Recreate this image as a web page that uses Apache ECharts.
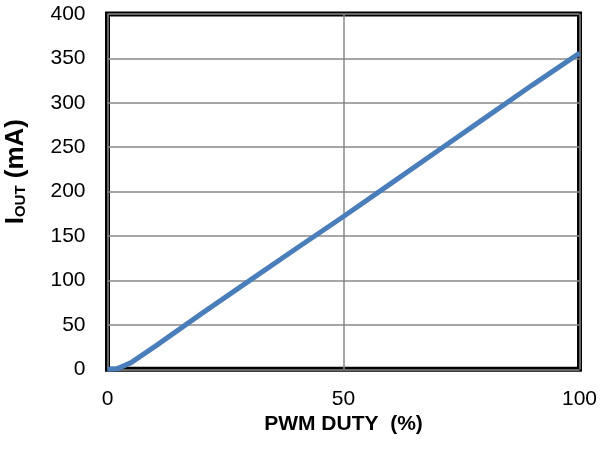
<!DOCTYPE html>
<html>
<head>
<meta charset="utf-8">
<script src="https://cdn.jsdelivr.net/npm/echarts@6/dist/echarts.min.js"></script>
<style>html,body{margin:0;padding:0;background:#fff;}#c{width:601px;height:453px;}</style>
</head>
<body>
<div id="c"></div>
<script>
var dutyPct = [0, 2, 5, 10, 20, 30, 40, 50, 60, 70, 80, 90, 100];
var ioutMA = [0, 0.5, 7.5, 25.5, 63, 99.5, 136, 172, 209, 246, 283, 320, 356];
var xTicks = [0, 50, 100];
var yTicks = [0, 50, 100, 150, 200, 250, 300, 350, 400];

var chart = echarts.init(document.getElementById('c'), null, {renderer: 'canvas'});
var font = 'Liberation Sans, Arial, sans-serif';
chart.setOption({
  animation: false,
  grid: {left: 107.5, right: 21.5, top: 14, bottom: 83.7, show: true, borderColor: '#000', borderWidth: 5,
    backgroundColor: 'transparent', containLabel: false, outerBoundsMode: 'none'},
  xAxis: {
    type: 'value', min: xTicks[0], max: xTicks[xTicks.length - 1], interval: 50,
    axisLine: {show: false}, axisTick: {show: false},
    splitLine: {show: true, lineStyle: {color: '#888', width: 1.5}},
    axisLabel: {fontFamily: font, fontSize: 21, color: '#000', margin: 19},
    name: 'PWM DUTY  (%)', nameLocation: 'middle', nameGap: 40,
    nameTextStyle: {fontFamily: font, fontSize: 21, fontWeight: 'bold', color: '#000'}
  },
  yAxis: {
    type: 'value', min: yTicks[0], max: yTicks[yTicks.length - 1], interval: 50,
    axisLine: {show: false}, axisTick: {show: false},
    splitLine: {show: true, lineStyle: {color: '#888', width: 1.5}},
    axisLabel: {fontFamily: font, fontSize: 21, color: '#000', margin: 22},
    name: '{i|I}{s|OUT}{n| (mA)}', nameLocation: 'middle', nameGap: 79,
    nameTextStyle: {
      padding: [0, 0, 0, 40],
      rich: {
        i: {fontFamily: font, fontSize: 26, fontWeight: 'bold', color: '#000', verticalAlign: 'bottom'},
        s: {fontFamily: font, fontSize: 15, fontWeight: 'bold', color: '#000', verticalAlign: 'bottom'},
        n: {fontFamily: font, fontSize: 26, fontWeight: 'bold', color: '#000', verticalAlign: 'bottom'}
      }
    }
  },
  series: [{
    type: 'line', data: dutyPct.map(function (d, i) { return [d, ioutMA[i]]; }),
    showSymbol: false, symbol: 'none',
    lineStyle: {color: '#4A7EBB', width: 5}, z: 3
  }]
});
</script>
</body>
</html>
